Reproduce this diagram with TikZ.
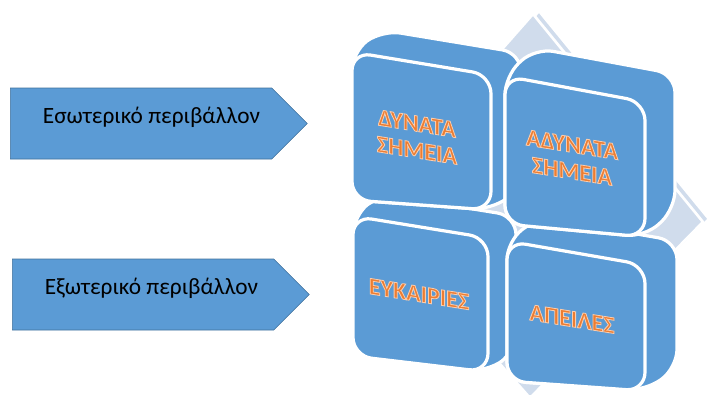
\documentclass[tikz,border=0pt]{standalone}
\usepackage{fontspec}
\setmainfont{Carlito}
\newfontfamily\wordfont{Carlito Bold}[FakeBold=3.5]
\usetikzlibrary{shapes.symbols}
\definecolor{tileblue}{HTML}{5B9BD5}
\definecolor{edgeblue}{HTML}{41719C}
\definecolor{diamondgrey}{HTML}{D0DCEC}
% orange letters, stroked with a light glow
\newcommand{\glowword}[1]{\special{pdf:bcolor [0.929 0.490 0.192] [0.980 0.800 0.680]}#1\special{pdf:ecolor}}

\begin{document}
\begin{tikzpicture}[x=0.75pt, y=-0.75pt,
% common options for the pointers on the left:
pointer/.style = {signal, signal to=east, draw=edgeblue, fill=tileblue,
            minimum width=222.75pt, minimum height=53.25pt, inner sep=0, anchor=west},
% common options for the captions:
caption/.style = {anchor=base, font=\fontsize{17.5}{21}\selectfont},
% common options for the tiles:
tileside/.style = {fill=tileblue, draw=white, line width=2.4pt, rounded corners=14pt},
backdrop/.style = {fill=diamondgrey, draw=white, line width=2pt, line join=round},
tiletext/.style = {align=center, yslant=-0.16, transform shape,
            inner sep=0, font=\wordfont\fontsize{18}{20}\selectfont}]
\useasboundingbox (0,0) rectangle (707,394);
% pointers
\node[pointer] (A1) at (10,123.5) {};
\node[pointer] (A2) at (12,294.5) {};
\node[caption] (L1) at (151.5,123) {Εσωτερικό περιβάλλον};
\node[caption] (L2) at (151.5,294) {Εξωτερικό περιβάλλον};
% diamond behind the tiles
\draw[backdrop] (539,11) -- (709,219) -- (536,395) -- (368,205) -- cycle;
\draw[backdrop] (533,14) -- (703,222) -- (530,398) -- (362,208) -- cycle;
% bottom left tile
\draw[tileside] (353,216) -- (381,194) -- (516,216) -- (516,350) -- (488,372) -- (353,356) -- cycle;
\draw[tileside] (353,216) -- (488,238) -- (488,372) -- (353,356) -- cycle;
% bottom right tile
\draw[tileside] (507,241) -- (539,217) -- (677,241) -- (677,368) -- (645,391) -- (507,381) -- cycle;
\draw[tileside] (507,241) -- (645,265) -- (645,391) -- (507,381) -- cycle;
% top left tile
\draw[tileside] (352,52) -- (382,30) -- (521,53) -- (521,188) -- (491,210) -- (352,200) -- cycle;
\draw[tileside] (352,52) -- (491,75) -- (491,210) -- (352,200) -- cycle;
% top right tile
\draw[tileside] (505,76) -- (535,48) -- (675,74) -- (675,209) -- (645,237) -- (505,224) -- cycle;
\draw[tileside] (505,76) -- (645,102) -- (645,237) -- (505,224) -- cycle;
% tile words
\node[tiletext] (T1) at (417,137) {\glowword{ΔΥΝΑΤΑ}\\\glowword{ΣΗΜΕΙΑ}};
\node[tiletext] (T2) at (572,158) {\glowword{ΑΔΥΝΑΤΑ}\\\glowword{ΣΗΜΕΙΑ}};
\node[tiletext] (T3) at (419,294) {\glowword{ΕΥΚΑΙΡΙΕΣ}};
\node[tiletext] (T4) at (572,319) {\glowword{ΑΠΕΙΛΕΣ}};
\end{tikzpicture}
\end{document}
